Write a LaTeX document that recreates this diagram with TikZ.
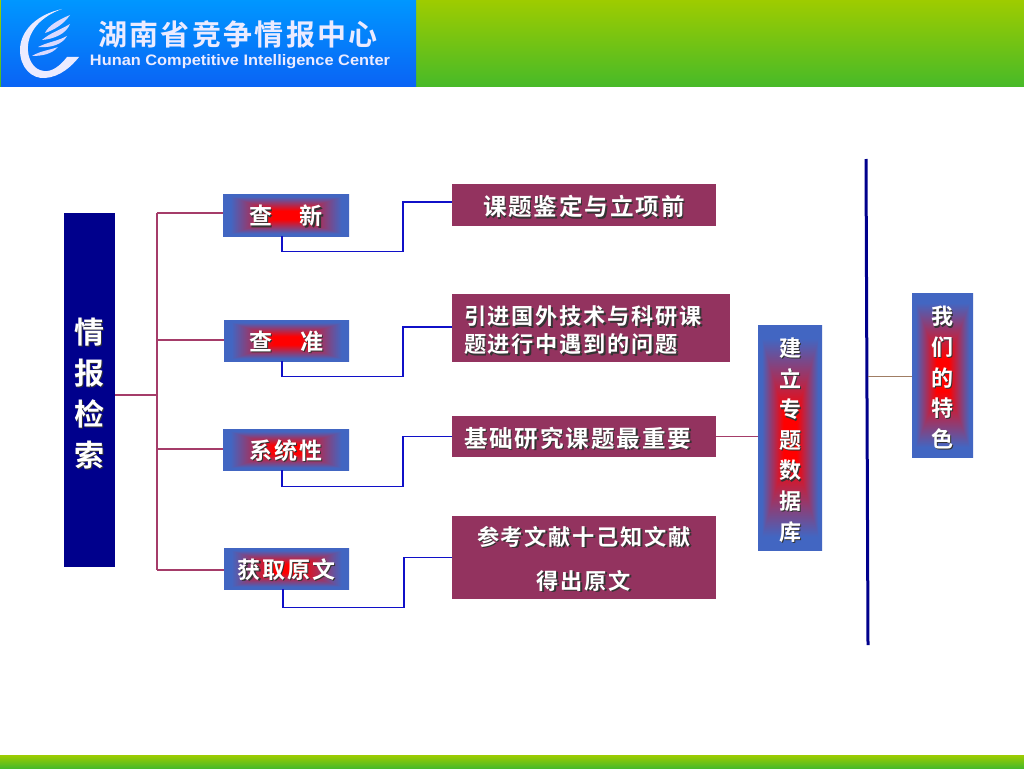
\documentclass[tikz,border=0pt]{standalone}
\usepackage{fontspec}
\usepackage{graphicx}
\newfontfamily\hei[LetterSpace=8,BoldFont={Noto Sans CJK SC Bold}]{Noto Sans CJK SC}
\newfontfamily\logohei[LetterSpace=8,BoldFont={Noto Sans CJK SC Bold}]{Noto Sans CJK SC}
\newfontfamily\logolatin{Liberation Sans}
\newcommand{\sh}[1]{\leavevmode\rlap{\raisebox{-1.3pt}{\hspace{1.3pt}\color{black!80}#1}}#1}
\newcommand{\drop}[1]{\rule{0pt}{#1pt}}
\pgfdeclarefunctionalshading{rectglow}{\pgfpoint{-50bp}{-50bp}}{\pgfpoint{50bp}{50bp}}{}{
abs 25 div exch abs 25 div 2 copy lt {exch} if pop
0.2 sub 0.68 div dup 0 lt {pop 0} if dup 1 gt {pop 1} if
dup -0.74 mul 1 add exch dup 0.4 mul exch 0.76 mul
}
\definecolor{barblue}{RGB}{0,0,140}
\definecolor{plum}{RGB}{147,51,95}
\definecolor{trunkred}{RGB}{165,60,105}
\definecolor{wireblue}{RGB}{16,16,200}
\definecolor{wirebrown}{RGB}{160,125,100}
\tikzset{
glow/.style={shading=rectglow,text=white,inner sep=0pt,align=center,font=\hei\bfseries\fontsize{23}{23}\selectfont},
tallglow/.style={glow,font=\hei\bfseries\fontsize{22}{30.6}\selectfont},
plumbox/.style={fill=plum,text=white,inner sep=0pt,align=center,font=\hei\bfseries\fontsize{23.6}{28}\selectfont},
plumsmall/.style={plumbox,font=\hei\bfseries\fontsize{22.2}{28}\selectfont},
redline/.style={draw=trunkred,line width=1.3pt},
blueline/.style={draw=wireblue,line width=1.3pt}
}
\begin{document}
\begin{tikzpicture}[x=1pt,y=-1pt]
\useasboundingbox (0,0) rectangle (1024,768);
\fill[white] (0,0) rectangle (1024,768);
\shade[top color={rgb,255:red,158;green,204;blue,0},bottom color={rgb,255:red,72;green,186;blue,40}] (0,0) rectangle (1024,86);
\shade[top color={rgb,255:red,158;green,204;blue,0},bottom color={rgb,255:red,72;green,186;blue,40}] (0,755) rectangle (1024,768);
\shade[top color={rgb,255:red,0;green,150;blue,255},bottom color={rgb,255:red,10;green,100;blue,245}] (1,1) rectangle (416,86);
\fill[white!92!blue] (62,9) .. controls (35,15) and (20,32) .. (20,50) .. controls (20,68) and (32,79) .. (45,78) .. controls (60,77) and (72,66) .. (79,57) -- (67,57) .. controls (60,66) and (52,72) .. (44,71) .. controls (33,70) and (27,58) .. (28,46) .. controls (29,30) and (42,16) .. (62,9) -- cycle;
\fill[white!85!blue] (70,15) .. controls (58,20) and (48,26) .. (45,33) .. controls (54,30) and (64,24) .. (70,15) -- cycle;
\fill[white!85!blue] (70,24) .. controls (60,30) and (50,33) .. (42,40) .. controls (54,39) and (66,34) .. (70,24) -- cycle;
\fill[white!85!blue] (67,36) .. controls (58,41) and (48,42) .. (38,47) .. controls (50,48) and (62,45) .. (67,36) -- cycle;
\fill[white!85!blue] (58,47) .. controls (50,50) and (40,51) .. (32,56) .. controls (42,56) and (52,54) .. (58,47) -- cycle;
\node[text=white!92!blue,inner sep=0pt,font=\logohei\bfseries\fontsize{29}{29}\selectfont] (logocn) at (238,34) {湖南省竞争情报中心};
\node[text=white!92!blue,inner sep=0pt] (logoen) at (240,62) {\resizebox{300pt}{11pt}{\logolatin\bfseries Hunan Competitive Intelligence Center}};
\node[fill=barblue,text=white,inner sep=0pt,minimum width=51pt,minimum height=354pt,align=center,font=\hei\bfseries\fontsize{30}{41}\selectfont] (main) at (89.5,390) {\drop{33}\sh{情}\\\sh{报}\\\sh{检}\\\sh{索}};
\node[glow,minimum width=126pt,minimum height=42pt] (a1) at (286,215) {\drop{23}\sh{查\hspace{28pt}新}};
\node[glow,minimum width=125pt,minimum height=41pt] (a2) at (286.5,340.5) {\drop{23}\sh{查\hspace{28pt}准}};
\node[glow,minimum width=126pt,minimum height=41pt] (a3) at (286,449.5) {\drop{23}\sh{系统性}};
\node[glow,minimum width=125pt,minimum height=41pt] (a4) at (286.5,568.5) {\drop{23}\sh{获取原文}};
\node[plumbox,minimum width=264pt,minimum height=42pt] (b1) at (584,205) {\drop{25}\sh{课题鉴定与立项前}};
\node[plumsmall,minimum height=68pt,inner xsep=12pt,text width=254pt,align=left] (b2) at (591,328) {\drop{25}\sh{引进国外技术与科研课}\\\sh{题进行中遇到的问题}};
\node[plumbox,minimum height=41pt,inner xsep=12pt,text width=240pt,align=left] (b3) at (584,436.5) {\drop{25}\sh{基础研究课题最重要}};
\node[plumsmall,minimum width=264pt,minimum height=83pt,font=\hei\bfseries\fontsize{22.2}{44}\selectfont] (b4) at (584,557.5) {\drop{23}\sh{参考文献十己知文献}\\\sh{得出原文}};
\node[tallglow,minimum width=64pt,minimum height=225pt] (db) at (790,437.5) {\drop{25}\sh{建}\\\sh{立}\\\sh{专}\\\sh{题}\\\sh{数}\\\sh{据}\\\sh{库}};
\node[tallglow,minimum width=61pt,minimum height=164pt] (we) at (942.5,375) {\drop{25}\sh{我}\\\sh{们}\\\sh{的}\\\sh{特}\\\sh{色}};
\coordinate (t0) at (157,395);
\coordinate (t1) at (157,213);
\coordinate (t2) at (157,340);
\coordinate (t3) at (157,449);
\coordinate (t4) at (157,570);
\coordinate (bartop) at (866,159);
\coordinate (barbot) at (868,645);
\coordinate (barmid) at (868,376);
\path[redline] (t1) -- (t4);
\path[redline] (t0 -| main.east) -- (t0);
\path[redline] (t1) -- (t1 -| a1.west);
\path[redline] (t2) -- (t2 -| a2.west);
\path[redline] (t3) -- (t3 -| a3.west);
\path[redline] (t4) -- (t4 -| a4.west);
\path[blueline] ([xshift=-4pt]a1.south) -- ++(0,15) -- ++(121,0) |- ([yshift=3pt]b1.west);
\path[blueline] ([xshift=-4.5pt]a2.south) -- ++(0,15) -- ++(121,0) |- ([yshift=1pt]b2.west);
\path[blueline] ([xshift=-4pt]a3.south) -- ++(0,16) -- ++(121,0) |- (b3.west);
\path[blueline] ([xshift=-3.5pt]a4.south) -- ++(0,18) -- ++(121,0) |- (b4.west);
\path[redline,line width=1pt] (b3.east) -- (b3.east -| db.west);
\path[draw=barblue,line width=3pt] (bartop) -- (barbot);
\path[draw=wirebrown,line width=1pt] (barmid) -- (barmid -| we.west);
\end{tikzpicture}
\end{document}
